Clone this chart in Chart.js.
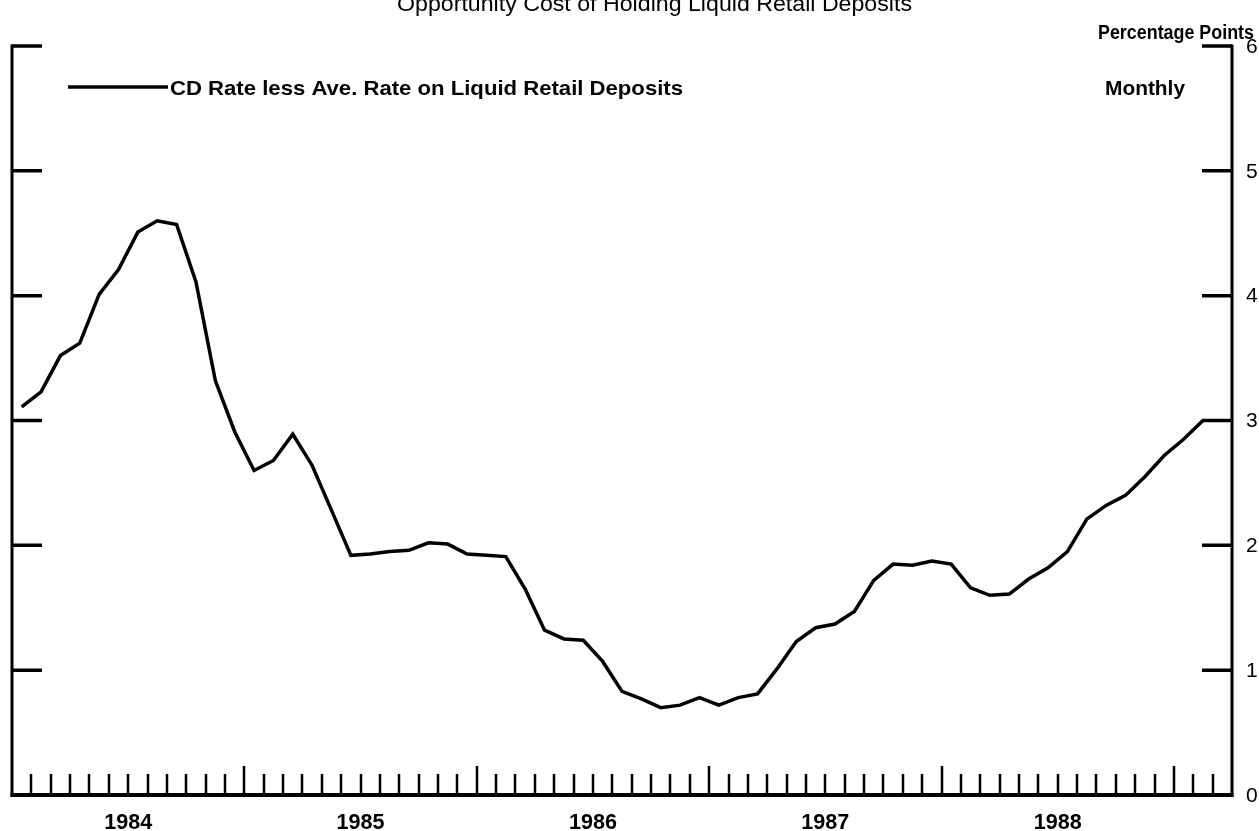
<!DOCTYPE html>
<html>
<head>
<meta charset="utf-8">
<title>Opportunity Cost of Holding Liquid Retail Deposits</title>
<script src="https://cdn.jsdelivr.net/npm/chart.js@4.4.0/dist/chart.umd.min.js"></script>
<style>
  body { margin: 0; background: #fff; }
  #wrap { width: 1259px; height: 831px; }
</style>
</head>
<body>
<div id="wrap"><canvas id="chart" width="1259" height="831"></canvas></div>
<script>
  // monthly, Jan 1984 .. Feb 1989 (percentage points)
  const spread = [
    3.11, 3.23, 3.52, 3.62, 4.01, 4.21, 4.51, 4.60, 4.57, 4.11, 3.32, 2.91,
    2.60, 2.68, 2.89, 2.64, 2.28, 1.92, 1.93, 1.95, 1.96, 2.02, 2.01, 1.93,
    1.92, 1.91, 1.65, 1.32, 1.25, 1.24, 1.07, 0.83, 0.77, 0.70, 0.72, 0.78,
    0.72, 0.78, 0.81, 1.01, 1.23, 1.34, 1.37, 1.47, 1.72, 1.85, 1.84, 1.875,
    1.85, 1.66, 1.60, 1.61, 1.73, 1.82, 1.95, 2.21, 2.32, 2.40, 2.55, 2.72,
    2.85, 3.00
  ];
  const yearLabels = ['1984', '1985', '1986', '1987', '1988'];
  const yTicks = [0, 1, 2, 3, 4, 5, 6];
  const monthSlots = 63; // axis runs to the start of Apr 1989

  const FONT = '"Liberation Sans", Arial, Helvetica, sans-serif';

  // draw text stretched horizontally to a given width (scanned type is wide)
  function wideText(ctx, text, left, baseline, width, size, weight) {
    ctx.save();
    ctx.font = `${weight} ${size}px ${FONT}`;
    ctx.textAlign = 'left';
    ctx.textBaseline = 'alphabetic';
    const w = ctx.measureText(text).width;
    ctx.translate(left, baseline);
    ctx.scale(width / w, 1);
    ctx.fillText(text, 0, 0);
    ctx.restore();
  }

  const frame = {
    id: 'frame',
    afterDatasetsDraw(chart) {
      const { ctx, chartArea: { left, right, top, bottom }, scales: { x, y } } = chart;
      ctx.save();
      ctx.strokeStyle = '#000';
      ctx.fillStyle = '#000';
      ctx.lineCap = 'butt';

      // side axes
      ctx.lineWidth = 3;
      ctx.beginPath();
      ctx.moveTo(left, top - 1.5); ctx.lineTo(left, bottom + 2);
      ctx.moveTo(right, top - 1.5); ctx.lineTo(right, bottom + 2);
      ctx.stroke();

      // bottom axis
      ctx.lineWidth = 4;
      ctx.beginPath();
      ctx.moveTo(left - 1.5, bottom); ctx.lineTo(right + 1.5, bottom);
      ctx.stroke();

      // y ticks, pointing inward on both sides
      ctx.lineWidth = 3.5;
      ctx.beginPath();
      yTicks.filter(v => v > 0).forEach(v => {
        const py = y.getPixelForValue(v);
        ctx.moveTo(left, py); ctx.lineTo(left + 30, py);
        ctx.moveTo(right - 30, py); ctx.lineTo(right, py);
      });
      ctx.stroke();

      // month ticks, longer at year boundaries
      ctx.lineWidth = 2.5;
      ctx.beginPath();
      for (let m = 1; m < monthSlots; m++) {
        const px = Math.round(x.getPixelForValue(m));
        const len = m % 12 === 0 ? 29 : 21;
        ctx.moveTo(px, bottom); ctx.lineTo(px, bottom - len);
      }
      ctx.stroke();

      // year labels, centred in each year
      yearLabels.forEach((lab, k) => {
        const cx = x.getPixelForValue(k * 12 + 6);
        wideText(ctx, lab, cx - 24, 829, 48, 22, 'bold');
      });

      // right axis numbers
      ctx.font = `21px ${FONT}`;
      ctx.textAlign = 'left';
      ctx.textBaseline = 'middle';
      yTicks.forEach(v => ctx.fillText(String(v), right + 14, y.getPixelForValue(v) + 1));

      // titles and legend
      wideText(ctx, 'Opportunity Cost of Holding Liquid Retail Deposits', 397, 11, 515, 22, 'normal');
      wideText(ctx, 'Percentage Points', 1098, 39, 156, 20, 'bold');
      wideText(ctx, 'Monthly', 1105, 95, 80, 21, 'bold');

      ctx.lineWidth = 3.5;
      ctx.beginPath();
      ctx.moveTo(68, 87); ctx.lineTo(168, 87);
      ctx.stroke();
      wideText(ctx, 'CD Rate less Ave. Rate on Liquid Retail Deposits', 170, 95, 513, 21, 'bold');

      ctx.restore();
    }
  };

  new Chart(document.getElementById('chart'), {
    type: 'line',
    data: {
      datasets: [{
        label: 'CD Rate less Ave. Rate on Liquid Retail Deposits',
        data: spread.map((v, i) => ({ x: i + 0.5, y: v })),
        borderColor: '#000',
        borderWidth: 3.5,
        pointRadius: 0,
        tension: 0,
        fill: false
      }]
    },
    options: {
      responsive: false,
      animation: false,
      layout: { padding: { left: 12, right: 27, top: 46, bottom: 36 } },
      plugins: { legend: { display: false }, tooltip: { enabled: false } },
      scales: {
        x: { type: 'linear', min: 0, max: monthSlots, display: false },
        y: { min: 0, max: 6, display: false }
      }
    },
    plugins: [frame]
  });
</script>
</body>
</html>
